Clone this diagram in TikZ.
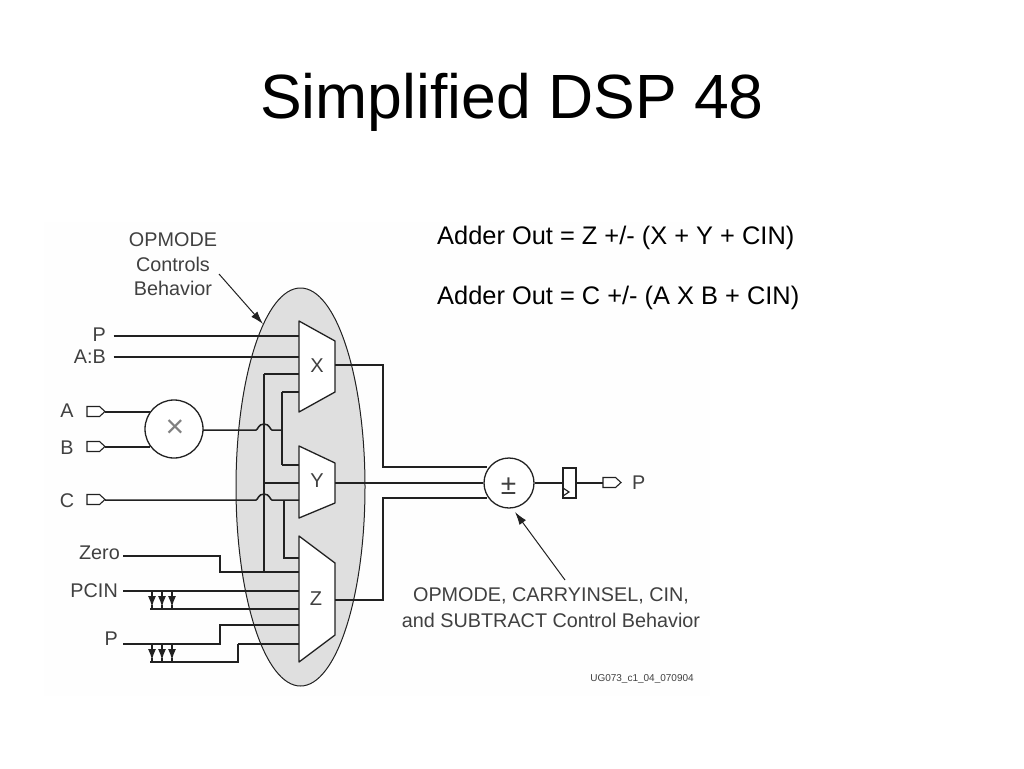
\documentclass[tikz,border=0pt]{standalone}
\usepackage{fontspec}
\setmainfont{Liberation Sans}
\usetikzlibrary{arrows.meta}
\definecolor{ink}{gray}{0.13}
\definecolor{lbl}{gray}{0.25}
\definecolor{ovalgray}{gray}{0.875}
\definecolor{paper}{gray}{0.995}
\tikzset{
  x=1pt,y=-1pt,
  wire/.style={draw=ink,line width=1.5pt},
  mux/.style={draw=ink,fill=white,line width=1.3pt,line join=round},
  lab/.style={text=lbl,font=\fontsize{19.8}{22}\selectfont,inner sep=0pt,anchor=center},
  muxlab/.style={text=lbl,font=\fontsize{20}{22}\selectfont,inner sep=0pt},
  roundop/.style={circle,draw=ink,fill=white,line width=1.3pt,inner sep=0pt},
  pointer/.style={draw=ink,line width=1pt,-{Latex[length=13pt,width=8pt]}},
  port/.pic={
    \draw[draw=ink,fill=white,line width=1.1pt] (0,-5.5) -- (12.5,-5.5) -- (18,-0.5) -- (12.5,4.5) -- (0,4.5) -- cycle;
    \coordinate (-tip) at (18,0);
  },
  tripdrop/.pic={
    \foreach \dx in {0,10,20}{
      \draw[draw=ink,line width=1.4pt,-{Latex[length=11pt,width=8pt]}] (\dx,0) -- (\dx,16);
      \draw[draw=ink,line width=1.4pt] (\dx,14) -- (\dx,18);
    }
  },
}
\begin{document}
\begin{tikzpicture}
\useasboundingbox (0,0) rectangle (1024,768);
\fill[white] (0,0) rectangle (1024,768);
\fill[paper] (44,222) rectangle (710,696);
\node[font=\fontsize{62.5}{64}\selectfont,text=black,inner sep=0pt] (title) at (512,102) {Simplified DSP 48};
% shaded ellipse
\fill[ovalgray] (300.5,487) ellipse [x radius=64.5,y radius=199];
\draw[draw=ink,line width=1pt] (300.5,487) ellipse [x radius=64.5,y radius=199];
% text block
\node[font=\fontsize{25.4}{28}\selectfont,text=black,inner sep=0pt,anchor=west] (eqA) at (437,237.5) {Adder Out = Z +/- (X + Y + CIN)};
\node[font=\fontsize{25.4}{28}\selectfont,text=black,inner sep=0pt,anchor=west] (eqB) at (437,297.5) {Adder Out = C +/- (A X B + CIN)};
% labels
\node[lab] (lblOp) at (173,240) {OPMODE};
\node[lab] (lblCt) at (173,264) {Controls};
\node[lab] (lblBeh) at (173,288) {Behavior};
\node[lab,anchor=east] (lP) at (106,335) {P};
\node[lab,anchor=east] (lAB) at (106,357) {A:B};
\node[lab] (lA) at (67,411) {A};
\node[lab] (lB) at (67,448) {B};
\node[lab] (lC) at (67,501) {C};
\node[lab,anchor=east] (lZero) at (120,553) {Zero};
\node[lab,anchor=east] (lPCIN) at (118,591) {PCIN};
\node[lab,anchor=east] (lP2) at (118,639) {P};
\node[lab,anchor=west] (lPout) at (632,483) {P};
\node[lab] (lCtl) at (551,596) {OPMODE, CARRYINSEL, CIN,};
\node[lab] (lCtl2) at (551,620) {and SUBTRACT Control Behavior};
\node[text=lbl,font=\fontsize{10}{11}\selectfont,inner sep=0pt] (code) at (642,679) {UG073\_c1\_04\_070904};
% junctions
\coordinate (xP) at (299,336);
\coordinate (xAB) at (299,357);
\coordinate (xC) at (299,374);
\coordinate (xM) at (299,392);
\coordinate (yM) at (299,465);
\coordinate (yC) at (299,483);
\coordinate (yIn) at (299,500);
\coordinate (zTop) at (299,558);
\coordinate (zZero) at (301,572);
\coordinate (zPC) at (299,591);
\coordinate (zPCs) at (299,609);
\coordinate (zP) at (299,625);
\coordinate (zPs) at (299,644);
\coordinate (xOut) at (335,365);
\coordinate (yOut) at (335,483);
\coordinate (zOut) at (335,600);
\coordinate (busV) at (264,374);
\coordinate (busBot) at (264,572);
\coordinate (busY) at (264,483);
\coordinate (mulV) at (282,392);
\coordinate (mulJ) at (282,430);
\coordinate (mulL) at (282,465);
\coordinate (cV) at (284,500);
\coordinate (cL) at (284,558);
\coordinate (sP) at (113.5,336);
\coordinate (sAB) at (113.5,357);
\coordinate (sZero) at (123,556);
\coordinate (sPC) at (123,591);
\coordinate (sPCs) at (150,609);
\coordinate (sP2) at (123,644);
\coordinate (sP2s) at (150,662);
\coordinate (busT1) at (383,365);
\coordinate (busT2) at (383,467);
\coordinate (busB1) at (383,600);
\coordinate (busB2) at (383,498);
\coordinate (addT) at (487,467);
\coordinate (addB) at (487,498);
\coordinate (mulA) at (150,412);
\coordinate (mulB) at (150,447);
% wires behind muxes
\path[wire] (sP) -- (xP);
\path[wire] (sAB) -- (xAB);
\path[wire] (busV) -- (xC);
\path[wire] (busV) -- (busBot);
\path[wire] (mulL) -- (yM);
\path[wire] (mulV) -- (xM);
\path[wire] (mulV) -- (mulL);
\path[wire] (busY) -- (yC);
\path[wire] (cV) -- (cL) -- (zTop);
\path[wire] (sZero) -- (220,556) -- (220,572) -- (zZero);
\path[wire] (sPC) -- (zPC);
\path[wire] (sPCs) -- (zPCs);
\path[wire] (sP2) -- (220,644) -- (220,625) -- (zP);
\path[wire] (238,644) -- (zPs);
\path[wire] (238,644) -- (238,662) -- (sP2s);
% muxes
\draw[mux] (299,321) -- (335,341) -- (335,392) -- (299,412) -- cycle;
\draw[mux] (299,446) -- (335,463) -- (335,503) -- (299,518) -- cycle;
\draw[mux] (299,536) -- (335,563) -- (335,635) -- (299,662) -- cycle;
\node[muxlab] (muxX) at (317,366) {X};
\node[muxlab] (muxY) at (317,481) {Y};
\node[muxlab] (muxZ) at (316,599) {Z};
% ports
\pic (pA) at (87,412) {port};
\pic (pB) at (87,447) {port};
\pic (pC) at (87,500) {port};
\pic (pOut) at (603,483) {port};
\coordinate (pOutIn) at (603,483);
\path[wire] (pA-tip) -- (mulA);
\path[wire] (pB-tip) -- (mulB);
% hops
\path[wire] (174,430) -- (256,430) .. controls (258,430) and (258,424) .. (264,424) .. controls (270,424) and (270,430) .. (272,430) -- (mulJ);
\path[wire] (pC-tip) -- (256,500) .. controls (258,500) and (258,494) .. (264,494) .. controls (270,494) and (270,500) .. (272,500) -- (yIn);
% outputs
\path[wire] (xOut) -- (busT1) -- (busT2) -- (addT);
\path[wire] (zOut) -- (busB1) -- (busB2) -- (addB);
% operators
\node[roundop,minimum size=58pt] (mul) at (174,429) {};
\node[text=gray,font=\fontsize{32}{32}\selectfont,inner sep=0pt] (mulsym) at (175,429) {×};
\node[roundop,minimum size=50pt] (add) at (509,483) {};
\node[text=lbl,font=\fontsize{28}{28}\selectfont,inner sep=0pt] (addsym) at (508.5,486) {±};
\path[wire] (yOut) -- (add.west);
% register
\node[draw=ink,fill=white,line width=1.3pt,minimum width=13pt,minimum height=30pt,inner sep=0pt] (reg) at (569.5,483) {};
\draw[draw=ink,line width=1.2pt] (563,488) -- (569,492) -- (563,496);
\path[wire] (add.east) -- (reg.west);
\path[wire] (reg.east) -- (pOutIn);
% triple drops
\pic (dropA) at (152,591) {tripdrop};
\pic (dropB) at (152,644) {tripdrop};
% pointers
\coordinate (pt1) at (219,274);
\coordinate (pt1e) at (263,324);
\coordinate (pt2) at (565,580);
\coordinate (pt2e) at (515,512);
\path[pointer] (pt1) -- (pt1e);
\path[pointer] (pt2) -- (pt2e);
\end{tikzpicture}
\end{document}
